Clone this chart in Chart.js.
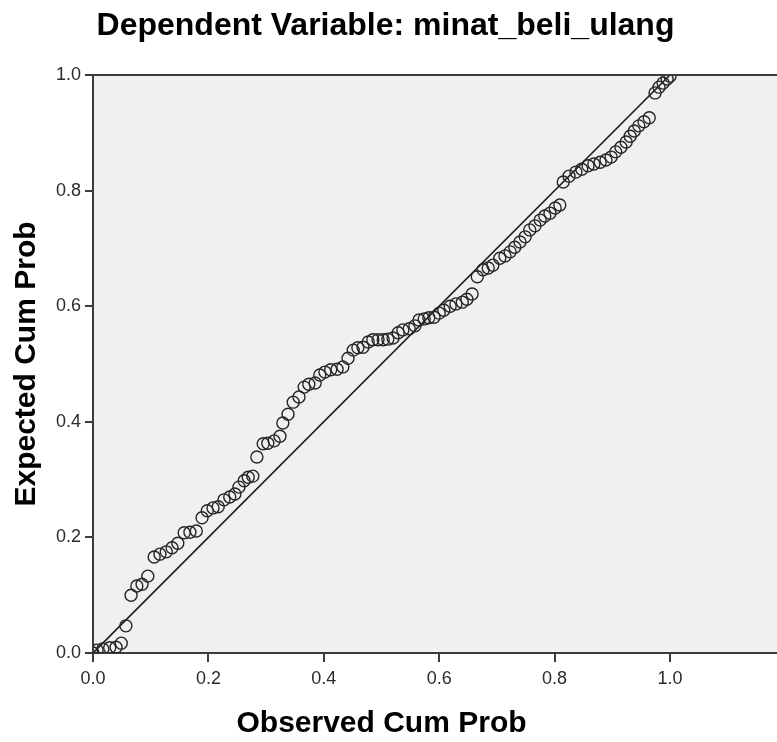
<!DOCTYPE html>
<html>
<head>
<meta charset="utf-8">
<script src="https://cdn.jsdelivr.net/npm/chart.js@4.4.1/dist/chart.umd.min.js"></script>
<style>
  html, body { margin: 0; padding: 0; background: #fff; }
  #wrap { width: 777px; height: 742px; }
</style>
</head>
<body>
<div id="wrap"><canvas id="pp" width="777" height="742"></canvas></div>
<script>
// observed cumulative probability (x) and expected cumulative probability (y)
const observed = [
  0.000, 0.007, 0.017, 0.029, 0.040, 0.049, 0.057, 0.066, 0.076, 0.085,
  0.095, 0.106, 0.116, 0.127, 0.137, 0.147, 0.158, 0.168, 0.179, 0.189,
  0.198, 0.208, 0.217, 0.227, 0.237, 0.246, 0.253, 0.262, 0.269, 0.277,
  0.284, 0.295, 0.303, 0.314, 0.324, 0.329, 0.338, 0.347, 0.357, 0.366,
  0.374, 0.385, 0.393, 0.402, 0.412, 0.423, 0.433, 0.442, 0.451, 0.459,
  0.468, 0.477, 0.485, 0.494, 0.503, 0.511, 0.520, 0.529, 0.537, 0.548,
  0.558, 0.565, 0.574, 0.582, 0.591, 0.600, 0.608, 0.619, 0.629, 0.640,
  0.648, 0.657, 0.666, 0.676, 0.685, 0.693, 0.705, 0.714, 0.723, 0.731,
  0.740, 0.749, 0.757, 0.766, 0.775, 0.783, 0.792, 0.801, 0.809, 0.815,
  0.825, 0.837, 0.847, 0.858, 0.868, 0.879, 0.889, 0.898, 0.906, 0.915,
  0.924, 0.931, 0.938, 0.946, 0.955, 0.964, 0.974, 0.981, 0.988, 0.995,
  1.000
];
const expected = [
  0.000, 0.005, 0.007, 0.009, 0.010, 0.017, 0.047, 0.100, 0.116, 0.119,
  0.133, 0.166, 0.171, 0.175, 0.182, 0.190, 0.208, 0.209, 0.211, 0.234,
  0.246, 0.251, 0.253, 0.265, 0.270, 0.275, 0.287, 0.298, 0.304, 0.306,
  0.339, 0.362, 0.363, 0.367, 0.375, 0.398, 0.413, 0.434, 0.443, 0.460,
  0.465, 0.467, 0.481, 0.486, 0.490, 0.491, 0.495, 0.510, 0.524, 0.528,
  0.529, 0.538, 0.542, 0.542, 0.542, 0.543, 0.545, 0.554, 0.559, 0.561,
  0.566, 0.576, 0.578, 0.580, 0.581, 0.588, 0.593, 0.600, 0.604, 0.607,
  0.612, 0.621, 0.651, 0.663, 0.666, 0.671, 0.683, 0.687, 0.694, 0.702,
  0.711, 0.720, 0.732, 0.739, 0.749, 0.756, 0.761, 0.770, 0.775, 0.815,
  0.825, 0.832, 0.837, 0.843, 0.846, 0.849, 0.853, 0.858, 0.867, 0.875,
  0.884, 0.894, 0.903, 0.912, 0.919, 0.926, 0.969, 0.979, 0.986, 0.993,
  0.998
];
const diagonal = [0, 1];
const tickValues = [0.0, 0.2, 0.4, 0.6, 0.8, 1.0];

const titleText = 'Dependent Variable: minat_beli_ulang';
const xTitle = 'Observed Cum Prob';
const yTitle = 'Expected Cum Prob';

const axisColor = '#3c3c3c';
const fontName = '"Liberation Sans", Arial, sans-serif';

// plot background, top frame line and the titles
const decor = {
  id: 'decor',
  beforeDraw(chart) {
    const { ctx, chartArea: a } = chart;
    ctx.save();
    ctx.fillStyle = '#fff';
    ctx.fillRect(0, 0, chart.width, chart.height);
    ctx.fillStyle = '#f0f0f0';
    ctx.fillRect(a.left, a.top, a.right - a.left, a.bottom - a.top);
    ctx.restore();
  },
  afterDraw(chart) {
    const { ctx, chartArea: a, scales } = chart;
    const midX = scales.x.getPixelForValue(0.5);
    const midY = scales.y.getPixelForValue(0.5);
    ctx.save();
    ctx.strokeStyle = axisColor;
    ctx.lineWidth = 2;
    ctx.beginPath();
    ctx.moveTo(a.left, a.top);
    ctx.lineTo(a.right, a.top);
    ctx.stroke();

    ctx.fillStyle = '#000';
    ctx.textAlign = 'center';
    ctx.textBaseline = 'middle';
    ctx.font = 'bold 32px ' + fontName;
    ctx.fillText(titleText, midX + 4, 26);

    ctx.font = 'bold 30px ' + fontName;
    ctx.fillText(xTitle, midX, 724);

    ctx.translate(27, midY);
    ctx.rotate(-Math.PI / 2);
    ctx.fillText(yTitle, 0, 0);
    ctx.restore();
  }
};

const tickFont = { family: fontName, size: 18 };

new Chart(document.getElementById('pp'), {
  type: 'scatter',
  data: {
    datasets: [
      {
        data: observed.map((x, i) => ({ x: x, y: expected[i] })),
        pointStyle: 'circle',
        pointRadius: 6,
        pointBorderWidth: 1.4,
        pointBorderColor: '#262626',
        pointBackgroundColor: 'rgba(0,0,0,0)',
        showLine: false
      },
      {
        type: 'line',
        data: diagonal.map(v => ({ x: v, y: v })),
        borderColor: '#1e1e1e',
        borderWidth: 1.6,
        pointRadius: 0,
        fill: false
      }
    ]
  },
  options: {
    responsive: false,
    animation: false,
    layout: { autoPadding: false, padding: { top: 75, left: 0, right: 0, bottom: 0 } },
    plugins: { legend: { display: false }, tooltip: { enabled: false } },
    scales: {
      x: {
        type: 'linear',
        min: 0,
        max: 684 / 577,
        afterFit(s) {
          s.height = 89;
          s.paddingLeft = 0;
          s.paddingRight = 0;
        },
        afterBuildTicks(s) { s.ticks = tickValues.map(v => ({ value: v })); },
        ticks: {
          font: tickFont,
          color: '#2b2b2b',
          padding: 6,
          maxRotation: 0,
          callback: v => v.toFixed(1)
        },
        grid: { drawOnChartArea: false, tickLength: 9, color: axisColor, lineWidth: 2 },
        border: { color: axisColor, width: 2 }
      },
      y: {
        type: 'linear',
        min: 0,
        max: 1,
        afterFit(s) { s.width = 93; },
        afterBuildTicks(s) { s.ticks = tickValues.map(v => ({ value: v })); },
        ticks: {
          font: tickFont,
          color: '#2b2b2b',
          padding: 4,
          callback: v => v.toFixed(1)
        },
        grid: { drawOnChartArea: false, tickLength: 8, color: axisColor, lineWidth: 2 },
        border: { color: axisColor, width: 2 }
      }
    }
  },
  plugins: [decor]
});
</script>
</body>
</html>
